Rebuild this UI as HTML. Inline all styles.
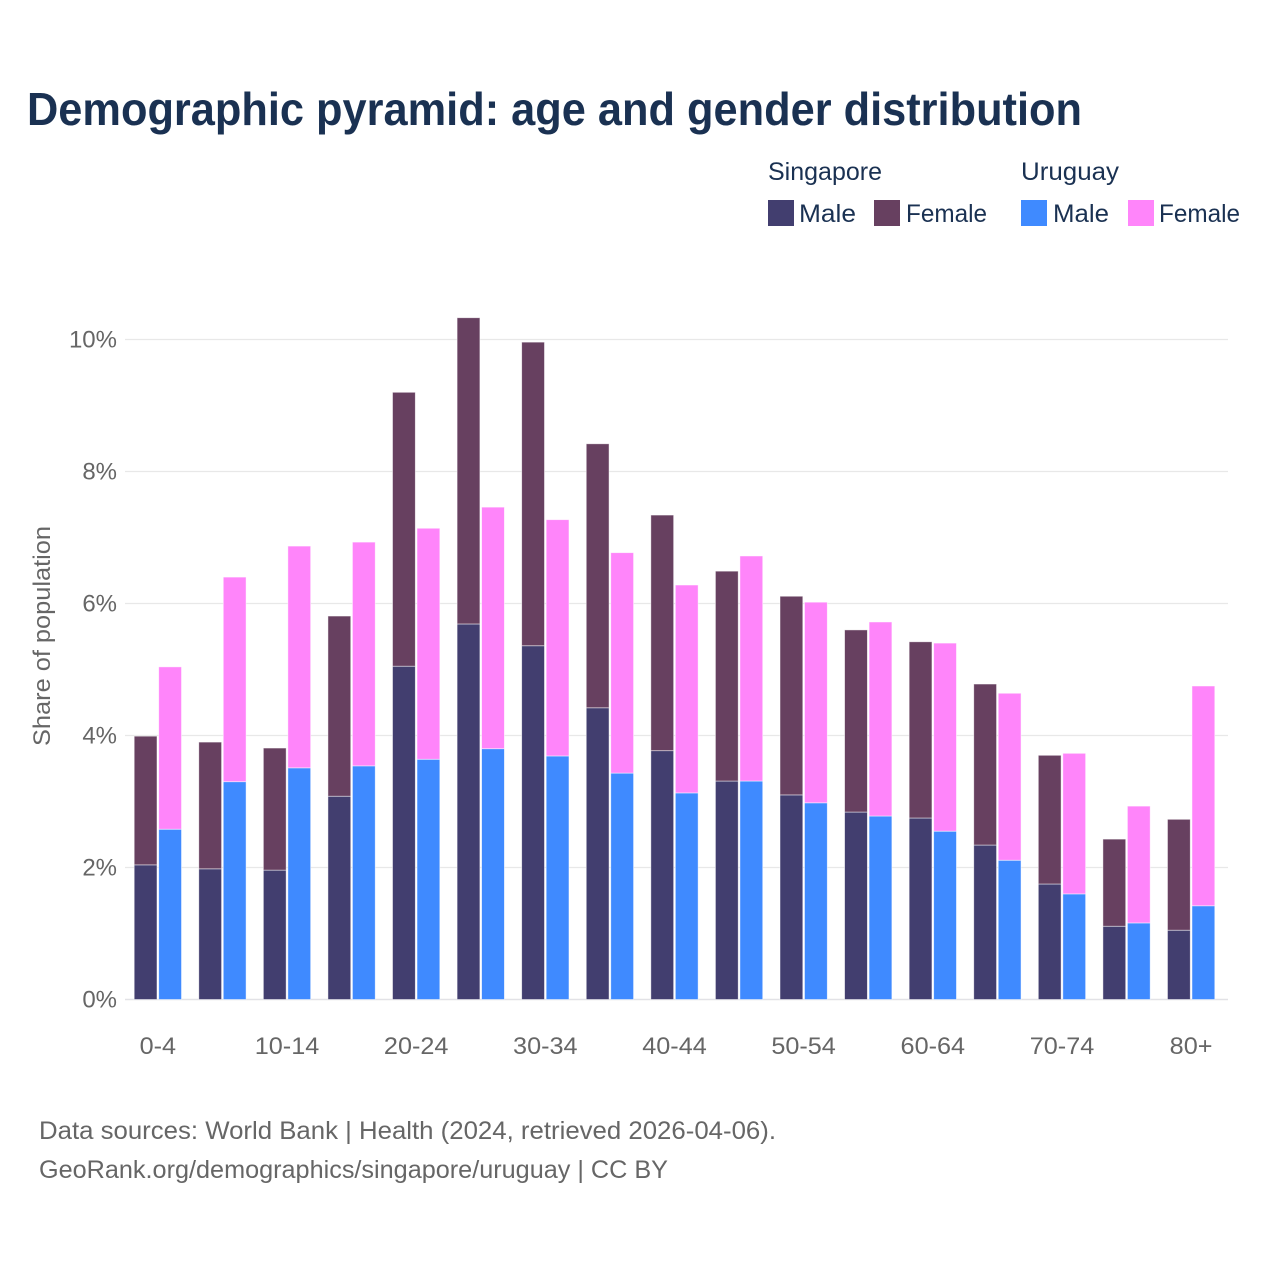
<!DOCTYPE html>
<html lang="en">
<head>
<meta charset="utf-8">
<title>Demographic pyramid: age and gender distribution</title>
<style>
html,body{margin:0;padding:0;background:#fff;}
svg{display:block;font-family:"Liberation Sans",sans-serif;}
</style>
</head>
<body>
<svg id="chart" xmlns="http://www.w3.org/2000/svg" width="1280" height="1280" viewBox="0 0 1280 1280">
  <rect x="0" y="0" width="1280" height="1280" fill="#ffffff"/>
  <text x="27" y="125" font-size="46" font-weight="700" fill="#1a3152" textLength="1055" lengthAdjust="spacingAndGlyphs">Demographic pyramid: age and gender distribution</text>

  <g font-size="25" fill="#1a3152">
    <text x="768" y="180" textLength="114" lengthAdjust="spacingAndGlyphs">Singapore</text>
    <text x="1021" y="180" textLength="98" lengthAdjust="spacingAndGlyphs">Uruguay</text>
    <rect x="768" y="200" width="26" height="26" fill="#423e6f"/>
    <text x="799" y="222" textLength="57" lengthAdjust="spacingAndGlyphs">Male</text>
    <rect x="874" y="200" width="26" height="26" fill="#674060"/>
    <text x="906" y="222" textLength="81" lengthAdjust="spacingAndGlyphs">Female</text>
    <rect x="1021" y="200" width="26" height="26" fill="#3f8aff"/>
    <text x="1053" y="222" textLength="56" lengthAdjust="spacingAndGlyphs">Male</text>
    <rect x="1128" y="200" width="26" height="26" fill="#ff85fa"/>
    <text x="1159" y="222" textLength="81" lengthAdjust="spacingAndGlyphs">Female</text>
  </g>

  <g id="grid"></g>
  <g id="bars"></g>
  <g id="y-ticks"></g>
  <g id="x-ticks"></g>

  <text transform="translate(50,636) rotate(-90)" text-anchor="middle" font-size="24" fill="#666666" textLength="220" lengthAdjust="spacingAndGlyphs">Share of population</text>

  <g font-size="25" fill="#666666">
    <text x="39" y="1139" textLength="737" lengthAdjust="spacingAndGlyphs">Data sources: World Bank | Health (2024, retrieved 2026-04-06).</text>
    <text x="39" y="1178" textLength="629" lengthAdjust="spacingAndGlyphs">GeoRank.org/demographics/singapore/uruguay | CC BY</text>
  </g>
</svg>
<script>
const ageGroups = ["0-4","5-9","10-14","15-19","20-24","25-29","30-34","35-39","40-44","45-49","50-54","55-59","60-64","65-69","70-74","75-79","80+"];
const singaporeMale = [2.04,1.98,1.96,3.08,5.05,5.69,5.36,4.42,3.77,3.31,3.10,2.84,2.75,2.34,1.75,1.11,1.05];
const singaporeFemale = [1.95,1.92,1.85,2.73,4.15,4.64,4.60,4.00,3.57,3.18,3.01,2.76,2.67,2.44,1.95,1.32,1.68];
const uruguayMale = [2.58,3.30,3.51,3.54,3.64,3.80,3.69,3.43,3.13,3.31,2.98,2.78,2.55,2.11,1.60,1.16,1.42];
const uruguayFemale = [2.46,3.10,3.36,3.39,3.50,3.66,3.58,3.34,3.15,3.41,3.04,2.94,2.85,2.53,2.13,1.77,3.33];
const yTickValues = [0,2,4,6,8,10];
const xTickLabels = ["0-4","10-14","20-24","30-34","40-44","50-54","60-64","70-74","80+"];

const NS = "http://www.w3.org/2000/svg";
const plotLeft = 125, plotRight = 1228;
const yZero = 999.5, pxPerUnit = 66;
const firstGroupLeft = 134.2, groupStep = 64.58, barWidth = 22.8, barGap = 1.7;

function yScale(v) { return yZero - v * pxPerUnit; }
function groupLeft(i) { return firstGroupLeft + i * groupStep; }
function groupCenter(i) { return groupLeft(i) + barWidth + barGap / 2; }

function stretchText(t, factor) {
  t.setAttribute("textLength", (t.getComputedTextLength() * factor).toFixed(1));
  t.setAttribute("lengthAdjust", "spacingAndGlyphs");
}

const gridGroup = document.getElementById("grid");
const yTickGroup = document.getElementById("y-ticks");
yTickValues.forEach(function (v) {
  const line = document.createElementNS(NS, "line");
  
  
  line.setAttribute("x1", plotLeft);
  line.setAttribute("x2", plotRight);
  line.setAttribute("y1", yScale(v));
  line.setAttribute("y2", yScale(v));
  line.setAttribute("stroke", v === 0 ? "#e2e2e6" : "#e8e8e8");
  line.setAttribute("stroke-width", v === 0 ? 1.6 : 1.2);
  gridGroup.appendChild(line);

  const t = document.createElementNS(NS, "text");
  
  
  t.setAttribute("x", 117);
  t.setAttribute("y", yScale(v) + 8);
  t.setAttribute("text-anchor", "end");
  t.setAttribute("font-size", 24);
  t.setAttribute("fill", "#666666");
  t.textContent = v + "%";
  yTickGroup.appendChild(t);
});

const barsGroup = document.getElementById("bars");
function addBar(x, base, value, fill, name) {
  const r = document.createElementNS(NS, "rect");
  
  
  const top = yScale(base + value);
  r.setAttribute("x", x.toFixed(2));
  r.setAttribute("y", top.toFixed(2));
  r.setAttribute("width", barWidth);
  r.setAttribute("height", (yScale(base) - top).toFixed(2));
  r.setAttribute("fill", fill);
  r.setAttribute("stroke", "#ffffff");
  r.setAttribute("stroke-opacity", "0.6");
  r.setAttribute("stroke-width", "0.8");
  barsGroup.appendChild(r);
}
ageGroups.forEach(function (age, i) {
  const xS = groupLeft(i);
  const xU = xS + barWidth + barGap;
  addBar(xS, 0, singaporeMale[i], "#423e6f", "bar-singapore-male");
  addBar(xS, singaporeMale[i], singaporeFemale[i], "#674060", "bar-singapore-female");
  addBar(xU, 0, uruguayMale[i], "#3f8aff", "bar-uruguay-male");
  addBar(xU, uruguayMale[i], uruguayFemale[i], "#ff85fa", "bar-uruguay-female");
});

const xTickGroup = document.getElementById("x-ticks");
xTickLabels.forEach(function (label) {
  const t = document.createElementNS(NS, "text");
  
  
  t.setAttribute("x", groupCenter(ageGroups.indexOf(label)).toFixed(1));
  t.setAttribute("y", 1054);
  t.setAttribute("text-anchor", "middle");
  t.setAttribute("font-size", 24);
  t.setAttribute("fill", "#666666");
  t.textContent = label;
  xTickGroup.appendChild(t);
  stretchText(t, 1.05);
});
</script>
</body>
</html>
